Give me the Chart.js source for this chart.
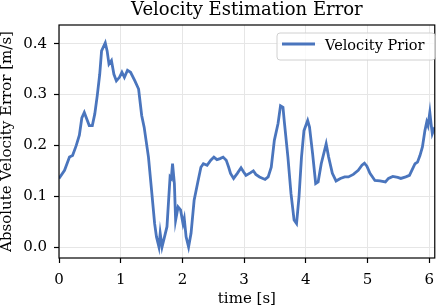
<!DOCTYPE html>
<html>
<head>
<meta charset="utf-8">
<script src="https://cdn.jsdelivr.net/npm/chart.js@4/dist/chart.umd.min.js"></script>
<style>
  html, body { margin: 0; padding: 0; background: #fff; }
  #wrap { width: 442px; height: 308px; }
</style>
</head>
<body>
<div id="wrap"><canvas id="chart" width="442" height="308"></canvas></div>
<script>
// time axis (s) and error values (m/s)
const timeS = [0, 0.09, 0.17, 0.22, 0.28, 0.33, 0.37, 0.41, 0.45, 0.49, 0.54, 0.58, 0.62, 0.66, 0.69, 0.75, 0.78, 0.81, 0.85, 0.89,
  0.93, 0.98, 1.02, 1.06, 1.11, 1.16, 1.23, 1.29, 1.34, 1.38, 1.45, 1.50, 1.55, 1.58, 1.62, 1.64, 1.67, 1.71, 1.75, 1.78,
  1.80, 1.82, 1.84, 1.87, 1.89, 1.93, 1.97, 2.01, 2.03, 2.06, 2.10, 2.14, 2.19, 2.25, 2.30, 2.34, 2.40, 2.46, 2.51, 2.56,
  2.61, 2.66, 2.71, 2.75, 2.78, 2.83, 2.89, 2.95, 2.99, 3.03, 3.10, 3.15, 3.19, 3.25, 3.34, 3.39, 3.44, 3.49, 3.55, 3.59,
  3.63, 3.65, 3.71, 3.76, 3.81, 3.85, 3.89, 3.93, 3.97, 4.03, 4.06, 4.11, 4.16, 4.20, 4.25, 4.33, 4.37, 4.43, 4.49, 4.56,
  4.63, 4.69, 4.77, 4.85, 4.91, 4.95, 4.99, 5.04, 5.12, 5.20, 5.29, 5.34, 5.41, 5.49, 5.54, 5.62, 5.68, 5.73, 5.77, 5.81,
  5.85, 5.89, 5.93, 5.96, 5.98, 6.01, 6.03, 6.05, 6.09];
const velocityPrior = [0.135, 0.151, 0.177, 0.18, 0.2, 0.22, 0.254, 0.265, 0.252, 0.239, 0.239, 0.262, 0.298, 0.34, 0.386, 0.402, 0.386, 0.36, 0.367, 0.34,
  0.327, 0.334, 0.344, 0.334, 0.348, 0.344, 0.327, 0.311, 0.259, 0.236, 0.177, 0.112, 0.046, 0.02, 0.0, 0.027, 0.0, 0.02, 0.04, 0.099,
  0.138, 0.135, 0.164, 0.125, 0.053, 0.079, 0.073, 0.046, 0.056, 0.02, 0.0, 0.027, 0.092, 0.128, 0.157, 0.164, 0.161, 0.171, 0.177, 0.172,
  0.174, 0.177, 0.171, 0.157, 0.145, 0.135, 0.145, 0.156, 0.148, 0.141, 0.146, 0.15, 0.143, 0.138, 0.133, 0.138, 0.157, 0.21, 0.243, 0.278,
  0.275, 0.249, 0.177, 0.105, 0.053, 0.046, 0.099, 0.177, 0.229, 0.249, 0.236, 0.184, 0.125, 0.128, 0.164, 0.203, 0.177, 0.145, 0.13, 0.135,
  0.138, 0.138, 0.143, 0.151, 0.161, 0.165, 0.159, 0.145, 0.131, 0.13, 0.128, 0.135, 0.139, 0.137, 0.135, 0.138, 0.141, 0.154, 0.164, 0.167,
  0.18, 0.197, 0.229, 0.246, 0.239, 0.265, 0.243, 0.223, 0.236];

const xTicks = [0, 1, 2, 3, 4, 5, 6];
const yTicks = [0.0, 0.1, 0.2, 0.3, 0.4];

const FONT = "'DejaVu Serif', serif";
const lineColor = '#4a75bd';

// title, frame and boxed legend drawn the matplotlib way
const decor = {
  id: 'decor',
  afterDraw(chart) {
    const {ctx, chartArea: a} = chart;
    ctx.save();
    ctx.strokeStyle = '#000';
    ctx.lineWidth = 1.2;
    ctx.strokeRect(a.left, a.top, a.right - a.left, a.bottom - a.top);

    ctx.fillStyle = '#000';
    ctx.font = '18px ' + FONT;
    ctx.textAlign = 'center';
    ctx.textBaseline = 'alphabetic';
    ctx.fillText('Velocity Estimation Error', (a.left + a.right) / 2, 15);

    // legend
    const bx = 277, by = 33, bw = 158, bh = 27;
    ctx.beginPath();
    ctx.roundRect(bx, by, bw, bh, 3);
    ctx.fillStyle = 'rgba(255,255,255,0.8)';
    ctx.fill();
    ctx.strokeStyle = '#d0d0d0';
    ctx.lineWidth = 1;
    ctx.stroke();
    ctx.beginPath();
    ctx.moveTo(bx + 5, by + 11);
    ctx.lineTo(bx + 38, by + 11);
    ctx.strokeStyle = lineColor;
    ctx.lineWidth = 2.8;
    ctx.stroke();
    ctx.fillStyle = '#000';
    ctx.font = '14.5px ' + FONT;
    ctx.textAlign = 'left';
    ctx.fillText(chart.data.datasets[0].label, bx + 48, by + 17);
    ctx.restore();
  }
};

new Chart(document.getElementById('chart'), {
  type: 'line',
  data: {
    datasets: [{
      label: 'Velocity Prior',
      data: timeS.map((t, i) => ({x: t, y: velocityPrior[i]})),
      borderColor: lineColor,
      borderWidth: 2.8,
      pointRadius: 0,
      tension: 0,
      fill: false
    }]
  },
  options: {
    responsive: false,
    animation: false,
    layout: {padding: {top: 25, right: 1, left: 0, bottom: 0}},
    plugins: {legend: {display: false}, title: {display: false}, tooltip: {enabled: false}},
    scales: {
      x: {
        type: 'linear',
        min: 0,
        max: 6.09,
        afterFit(s) { s.height = 50; },
        afterBuildTicks(s) { s.ticks = xTicks.map(v => ({value: v})); },
        ticks: {color: '#000', font: {family: FONT, size: 15}, padding: 8, maxRotation: 0,
          callback: v => String(v)},
        grid: {color: '#e6e6e6', lineWidth: 1, tickColor: '#000', tickLength: 5, tickWidth: 1.2},
        border: {display: false},
        title: {display: true, text: 'time [s]', color: '#000', font: {family: FONT, size: 15}, padding: {top: 0, bottom: 0}}
      },
      y: {
        min: -0.0216,
        max: 0.437,
        afterFit(s) { s.width = 59; },
        afterBuildTicks(s) { s.ticks = yTicks.map(v => ({value: v})); },
        ticks: {color: '#000', font: {family: FONT, size: 15}, padding: 7,
          callback: v => v.toFixed(1)},
        grid: {color: '#e6e6e6', lineWidth: 1, tickColor: '#000', tickLength: 5, tickWidth: 1.2},
        border: {display: false},
        title: {display: true, text: 'Absolute Velocity Error [m/s]', color: '#000', font: {family: FONT, size: 15}, padding: {top: -2, bottom: 0}}
      }
    }
  },
  plugins: [decor]
});
</script>
</body>
</html>
